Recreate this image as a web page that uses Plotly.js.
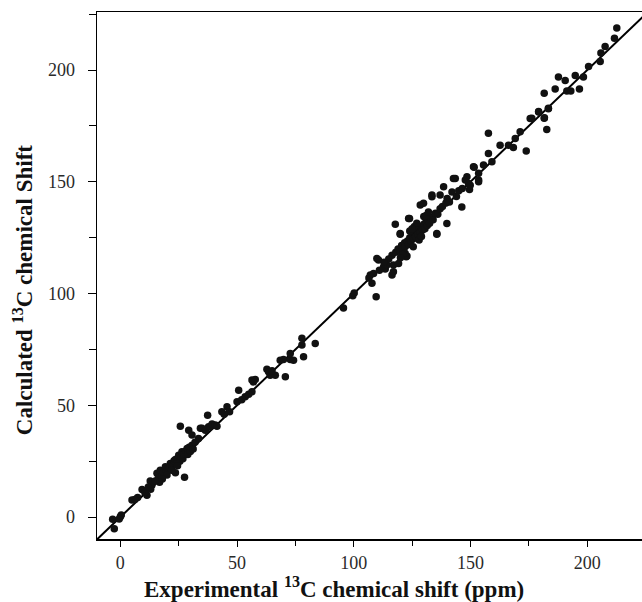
<!DOCTYPE html>
<html>
<head>
<meta charset="utf-8">
<script src="https://cdn.plot.ly/plotly-3.0.1.min.js"></script>
<style>html,body{margin:0;padding:0;background:#fff;}#chart{width:642px;height:602px;}</style>
</head>
<body>
<div id="chart"></div>
<script>
// Experimental vs calculated 13C chemical shifts (ppm)
const experimental = [
  -2.6,-3.3,0,0.4,-0.5,
  5.0,7.4,6.2,9.3,11.4,10.5,12.8,13.5,14.0,
  15.7,16.2,17.1,17.8,18.5,19.3,19.8,20.5,21.4,21.0,22.1,22.8,23.6,23.0,23.6,24.2,24.8,25.0,25.5,26.0,26.4,26.8,27.5,27.3,28.0,28.6,28.9,29.5,30.0,30.7,31.2,
  25.7,29.3,30.7,32.0,33.5,34.3,35.0,36.4,37.8,38.5,39.3,40.7,41.4,37.4,24.5,22.0,20.0,18.0,16.8,15.0,13.0,12.0,
  43.5,45.7,46.8,44.5,50.0,50.7,53.5,52.0,56.4,56.4,57.8,57.0,55.0,62.8,63.5,64.2,66.4,65.0,70.7,68.5,69.9,72.8,74.2,72.8,78.5,77.8,77.8,83.5,
  95.6,99.6,100.2,109.6,107.1,107.8,106.5,108.5,110.6,109.9,112.8,113.5,114.2,116.4,116.4,117.0,117.0,119.2,122.8,122.5,
  118.0,119.0,120.0,120.5,121.0,121.8,122.0,123.0,123.5,124.0,124.5,125.0,125.5,126.0,126.5,127.0,127.5,128.0,128.5,129.0,129.5,130.0,130.5,131.0,131.5,132.0,132.5,133.0,134.0,135.0,136.0,137.0,
  119.9,117.8,119.9,123.5,123.9,128.5,129.9,133.5,133.5,137.0,138.5,142.1,143.5,146.3,139.9,135.6,135.6,148.5,151.3,153.5,149.9,
  124.0,126.0,127.0,125.0,130.0,131.0,132.0,128.0,129.0,122.0,121.0,120.0,115.0,113.0,111.0,125.5,138.0,139.5,140.0,141.0,144.0,145.0,146.5,
  147.8,149.2,153.5,142.7,149.6,151.6,153.5,155.6,157.7,159.2,157.7,162.7,166.3,168.4,169.2,171.3,173.9,175.6,179.2,182.7,181.7,183.4,
  176.3,179.2,181.6,183.4,181.6,186.3,187.7,190.6,191.3,193.0,196.7,194.9,198.4,200.6,205.6,205.9,207.7,211.7,212.7
];
const calculated = [
  -5.2,-1.0,0.1,0.9,-0.8,
  7.6,8.8,7.9,12.4,9.8,11.0,16.1,14.2,15.5,
  19.6,17.3,21.0,18.5,19.9,22.5,20.4,21.8,24.0,22.3,22.9,23.5,19.8,25.2,25.8,24.1,26.5,27.7,25.0,27.0,29.2,26.1,17.8,28.3,29.6,30.7,28.0,31.2,29.4,32.2,30.5,
  40.7,38.9,36.7,33.5,35.2,39.7,39.7,38.9,40.4,40.4,41.6,41.2,40.7,45.6,23.0,21.0,18.8,17.0,15.6,16.2,12.5,13.5,
  47.1,49.4,47.1,46.0,51.6,56.8,53.8,52.5,56.1,61.3,61.6,60.5,55.0,66.1,65.0,63.5,63.5,65.5,62.8,70.2,70.5,70.5,70.2,73.2,71.7,77.0,80.0,77.7,
  93.6,99.0,100.3,98.6,108.3,104.6,107.0,109.0,115.0,115.7,112.0,111.0,112.8,117.2,108.3,112.8,109.8,113.5,116.8,116.5,
  118.5,120.0,119.0,121.5,120.0,122.8,121.0,123.5,122.0,125.0,123.5,126.0,124.5,127.5,125.5,128.0,126.5,129.5,127.5,130.0,128.5,131.0,129.0,132.0,130.5,133.0,131.5,134.0,133.0,136.0,135.5,138.0,
  126.6,131.0,126.9,133.6,133.6,139.6,140.4,144.1,143.3,144.1,147.8,145.5,151.5,138.8,131.4,126.9,126.6,152.3,156.8,150.8,148.5,
  128.0,130.0,131.5,129.0,134.5,135.0,136.5,124.0,125.5,118.0,117.5,116.0,115.5,114.0,110.5,121.0,139.0,140.5,142.5,141.0,143.5,146.0,147.0,
  150.8,149.3,150.0,151.5,146.6,156.5,153.8,157.5,162.7,159.0,171.7,166.4,166.4,165.4,169.4,172.4,163.8,178.4,181.3,173.4,178.7,182.9,
  178.5,181.5,178.5,182.7,189.7,191.6,196.9,195.4,190.6,190.6,191.6,197.6,196.9,201.6,203.9,207.7,210.6,214.3,218.8
];
const lineX = [-10, 230];
const lineY = [-10, 230];
const tickVals = [0, 50, 100, 150, 200];
const xTitle = '<b>Experimental <sup>13</sup>C chemical shift (ppm)</b>';
const yTitle = '<b>Calculated <sup>13</sup>C chemical Shift</b>';

const serif = 'Liberation Serif, Times New Roman, serif';
const traces = [
  {x: lineX, y: lineY, mode: 'lines', line: {color: '#000', width: 2}, hoverinfo: 'skip', showlegend: false},
  {x: experimental, y: calculated, mode: 'markers', type: 'scatter',
   marker: {color: '#111', size: 7.5, line: {width: 0}}, showlegend: false}
];
const layout = {
  width: 642, height: 602,
  margin: {l: 97, r: 0, t: 12, b: 63},
  paper_bgcolor: '#fff', plot_bgcolor: '#fff',
  font: {family: serif, color: '#222', size: 18},
  showlegend: false,
  xaxis: {
    range: [-10, 223.5], tickvals: tickVals, showgrid: false, zeroline: false,
    showline: true, linecolor: '#000', linewidth: 1.5, mirror: true,
    ticks: 'outside', ticklen: 6, tickwidth: 1, tickcolor: '#000',
    minor: {dtick: 25, tick0: 0, ticks: 'outside', ticklen: 5, tickcolor: '#000', showgrid: false},
    tickfont: {family: serif, size: 18, color: '#2a2a2a'},
    ticklabelstandoff: 1
  },
  yaxis: {
    range: [-9.8, 226], tickvals: tickVals, showgrid: false, zeroline: false,
    showline: true, linecolor: '#000', linewidth: 1.5, mirror: false,
    ticks: 'outside', ticklen: 8, tickwidth: 1, tickcolor: '#000',
    minor: {dtick: 25, tick0: 0, ticks: 'outside', ticklen: 7, tickcolor: '#000', showgrid: false},
    tickfont: {family: serif, size: 18, color: '#2a2a2a'},
    ticklabelstandoff: 9
  },
  annotations: [
    {text: xTitle, xref: 'paper', yref: 'paper', x: 0.435, y: -0.092, xanchor: 'center', yanchor: 'middle',
     showarrow: false, font: {family: serif, size: 23, color: '#111'}},
    {text: yTitle, xref: 'paper', yref: 'paper', x: -0.1358, y: 0.474, xanchor: 'center', yanchor: 'middle',
     textangle: -90, showarrow: false, font: {family: serif, size: 23, color: '#111'}}
  ]
};
Plotly.newPlot('chart', traces, layout, {displayModeBar: false, staticPlot: true});
</script>
</body>
</html>
